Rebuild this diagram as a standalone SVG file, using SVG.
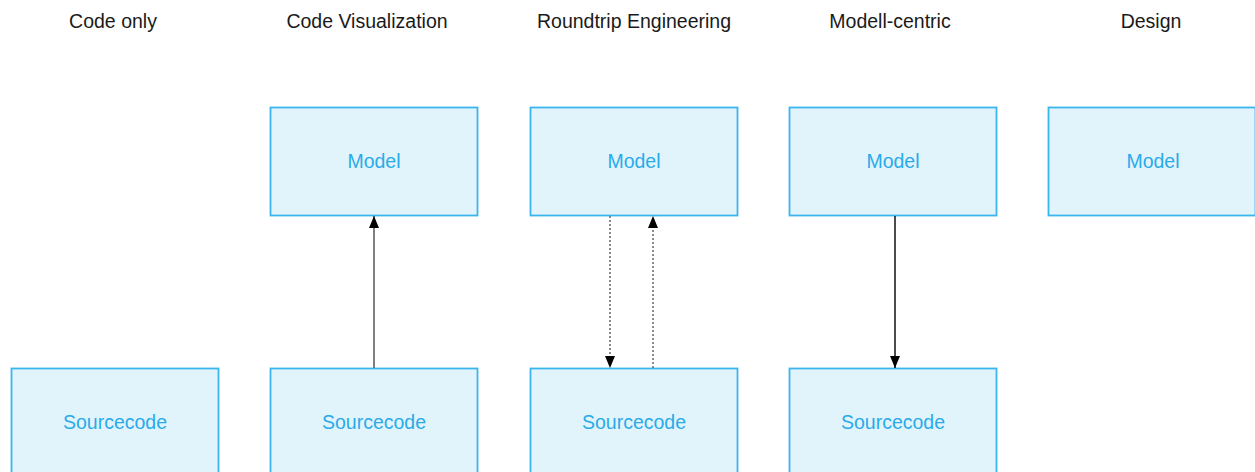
<svg xmlns="http://www.w3.org/2000/svg" width="1255" height="472" viewBox="0 0 1255 472">
  <style>
    .title { font-family: "Liberation Sans", Arial, sans-serif; font-size: 19.5px; fill: #1a1a1a; text-anchor: middle; }
    .box { fill: #e1f4fc; stroke: #3ab5ee; stroke-width: 1.8; }
    .label { font-family: "Liberation Sans", Arial, sans-serif; font-size: 19.5px; fill: #2aabe8; text-anchor: middle; dominant-baseline: central; }
    .edge { fill: none; stroke-width: 1.5; }
  </style>
  <defs>
    <marker id="arrow" viewBox="0 0 12 10" refX="12" refY="5" markerWidth="12" markerHeight="10" markerUnits="userSpaceOnUse" orient="auto">
      <path d="M0,0 L12,5 L0,10 z" fill="#000"/>
    </marker>
  </defs>

  <rect width="1255" height="472" fill="#fff"/>

  <!-- column headings -->
  <g id="titles">
    <text class="title" x="113" y="28">Code only</text>
    <text class="title" x="367" y="28">Code Visualization</text>
    <text class="title" x="634" y="28">Roundtrip Engineering</text>
    <text class="title" x="890" y="28">Modell-centric</text>
    <text class="title" x="1151" y="28">Design</text>
  </g>

  <!-- model boxes -->
  <g id="model-vis"><rect class="box" x="270.5" y="107.5" width="207" height="108"/><text class="label" x="374" y="161">Model</text></g>
  <g id="model-rt"><rect class="box" x="530.5" y="107.5" width="207" height="108"/><text class="label" x="634" y="161">Model</text></g>
  <g id="model-mc"><rect class="box" x="789.5" y="107.5" width="207" height="108"/><text class="label" x="893" y="161">Model</text></g>
  <g id="model-design"><rect class="box" x="1048.5" y="107.5" width="207" height="108"/><text class="label" x="1153" y="161">Model</text></g>

  <!-- source code boxes -->
  <g id="src-code"><rect class="box" x="11.5" y="368.5" width="207" height="108"/><text class="label" x="115" y="422">Sourcecode</text></g>
  <g id="src-vis"><rect class="box" x="270.5" y="368.5" width="207" height="108"/><text class="label" x="374" y="422">Sourcecode</text></g>
  <g id="src-rt"><rect class="box" x="530.5" y="368.5" width="207" height="108"/><text class="label" x="634" y="422">Sourcecode</text></g>
  <g id="src-mc"><rect class="box" x="789.5" y="368.5" width="207" height="108"/><text class="label" x="893" y="422">Sourcecode</text></g>

  <!-- connectors -->
  <g id="connectors">
    <line class="edge" x1="374" y1="368" x2="374" y2="216" stroke="#555" stroke-width="2" marker-end="url(#arrow)"/>
    <line class="edge" x1="610" y1="216" x2="610" y2="368" stroke="#666" stroke-dasharray="2,2" marker-end="url(#arrow)"/>
    <line class="edge" x1="653" y1="368" x2="653" y2="216" stroke="#666" stroke-dasharray="2,2" marker-end="url(#arrow)"/>
    <line class="edge" x1="895" y1="216" x2="895" y2="368" stroke="#111" marker-end="url(#arrow)"/>
  </g>
</svg>
